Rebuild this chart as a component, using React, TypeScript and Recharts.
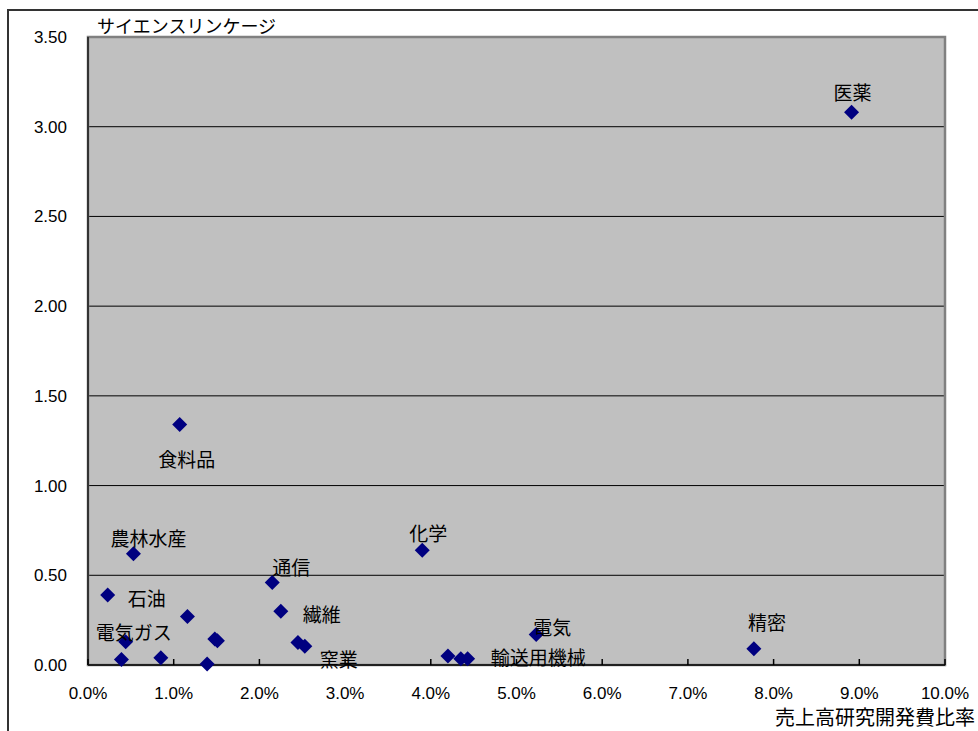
import React from 'react';
import {
  ScatterChart,
  Scatter,
  XAxis,
  YAxis,
  CartesianGrid,
  ReferenceArea,
} from 'recharts';

// 業種名（空文字はラベルなしの点）
const industries = [
  '医薬', '食料品', '農林水産', '石油', '通信', '化学', '繊維', '',
  '電気ガス', '', '', '', '', '', '', '窯業', '', '', '輸送用機械', '電気', '精密',
];
// 売上高研究開発費比率 (%)
const rdRatio = [
  8.91, 1.07, 0.53, 0.23, 2.15, 3.9, 2.25, 1.16,
  0.44, 1.48, 1.51, 0.39, 0.85, 1.39, 2.45, 2.53, 4.2, 4.35, 4.43, 5.23, 7.77,
];
// サイエンスリンケージ
const scienceLinkage = [
  3.08, 1.34, 0.62, 0.39, 0.46, 0.64, 0.3, 0.27,
  0.13, 0.145, 0.135, 0.03, 0.04, 0.005, 0.125, 0.105, 0.05, 0.035, 0.035, 0.17, 0.09,
];

const xTicks = [0, 1, 2, 3, 4, 5, 6, 7, 8, 9, 10];
const yTicks = [0, 0.5, 1, 1.5, 2, 2.5, 3, 3.5];

const data = industries.map((name, i) => ({
  name,
  x: rdRatio[i],
  y: scienceLinkage[i],
}));

// ラベルの置き場所（点からのずれ）
const labelPlacement: Record<string, { dx: number; dy: number; anchor: string }> = {
  医薬: { dx: 1, dy: -21, anchor: 'middle' },
  食料品: { dx: 7, dy: 34, anchor: 'middle' },
  農林水産: { dx: 15, dy: -16, anchor: 'middle' },
  石油: { dx: 20, dy: 2, anchor: 'start' },
  通信: { dx: 0, dy: -16, anchor: 'start' },
  化学: { dx: 6, dy: -18, anchor: 'middle' },
  繊維: { dx: 22, dy: 2, anchor: 'start' },
  電気ガス: { dx: 8, dy: -10, anchor: 'middle' },
  窯業: { dx: 15, dy: 12, anchor: 'start' },
  輸送用機械: { dx: 23, dy: -2, anchor: 'start' },
  電気: { dx: -3, dy: -8, anchor: 'start' },
  精密: { dx: 13, dy: -27, anchor: 'middle' },
};

const jpFont = '"Noto Sans CJK JP", sans-serif';
const numFont = '"Liberation Sans", Arial, sans-serif';

const DiamondPoint = (props: any) => {
  const { cx, cy, payload } = props;
  if (cx == null || cy == null) return null;
  const r = 7.5;
  const place = payload.name ? labelPlacement[payload.name] : null;
  return (
    <g>
      <polygon
        points={`${cx},${cy - r} ${cx + r},${cy} ${cx},${cy + r} ${cx - r},${cy}`}
        fill="#000080"
      />
      {place && (
        <text
          x={cx + place.dx}
          y={cy + place.dy}
          textAnchor={place.anchor as any}
          dominantBaseline="central"
          fontFamily={jpFont}
          fontSize={19}
          fill="#000"
        >
          {payload.name}
        </text>
      )}
    </g>
  );
};

const XTick = (props: any) => {
  const { x, y, payload } = props;
  return (
    <g>
      <line x1={x} y1={y} x2={x} y2={y - 6} stroke="#000" strokeWidth={1.5} />
      <text
        x={x}
        y={y + 34}
        textAnchor="middle"
        fontFamily={numFont}
        fontSize={17}
        fill="#000"
      >
        {`${payload.value.toFixed(1)}%`}
      </text>
    </g>
  );
};

export default function App() {
  return (
    <div style={{ position: 'absolute', left: 0, top: 0, width: 978, height: 731, background: '#fff' }}>
      <div
        style={{
          position: 'absolute',
          left: 7,
          top: 9,
          width: 969,
          height: 722,
          borderTop: '2px solid #333',
          borderLeft: '2px solid #333',
        }}
      />
      <div
        style={{
          position: 'absolute',
          left: 97,
          top: 12,
          fontFamily: jpFont,
          fontSize: 18,
          lineHeight: '26px',
          color: '#000',
          whiteSpace: 'nowrap',
        }}
      >
        サイエンスリンケージ
      </div>
      <div
        style={{
          position: 'absolute',
          right: 3,
          top: 704,
          fontFamily: jpFont,
          fontSize: 20,
          lineHeight: '26px',
          color: '#000',
          whiteSpace: 'nowrap',
        }}
      >
        売上高研究開発費比率
      </div>
      <div style={{ position: 'absolute', left: 0, top: 0 }}>
        <ScatterChart
          width={978}
          height={731}
          margin={{ top: 37, right: 33, bottom: 0, left: 0 }}
        >
          <CartesianGrid
            vertical={false}
            stroke="#000"
            strokeWidth={1}
            fill="#c0c0c0"
            fillOpacity={1}
          />
          <ReferenceArea
            x1={0}
            x2={10}
            y1={0}
            y2={3.5}
            fill="none"
            stroke="#808080"
            strokeWidth={2.5}
            ifOverflow="visible"
          />
          <XAxis
            type="number"
            dataKey="x"
            domain={[0, 10]}
            ticks={xTicks}
            interval={0}
            height={66}
            axisLine={{ stroke: '#000', strokeWidth: 1.5 }}
            tickLine={false}
            tickSize={0}
            tickMargin={0}
            tick={<XTick />}
          />
          <YAxis
            type="number"
            dataKey="y"
            domain={[0, 3.5]}
            ticks={yTicks}
            interval={0}
            width={88}
            axisLine={{ stroke: '#333', strokeWidth: 2 }}
            tickLine={false}
            tickSize={0}
            tickMargin={21}
            tickFormatter={(v: number) => v.toFixed(2)}
            tick={{ fontFamily: numFont, fontSize: 17, fill: '#000' }}
          />
          <Scatter data={data} shape={<DiamondPoint />} isAnimationActive={false} />
        </ScatterChart>
      </div>
    </div>
  );
}
